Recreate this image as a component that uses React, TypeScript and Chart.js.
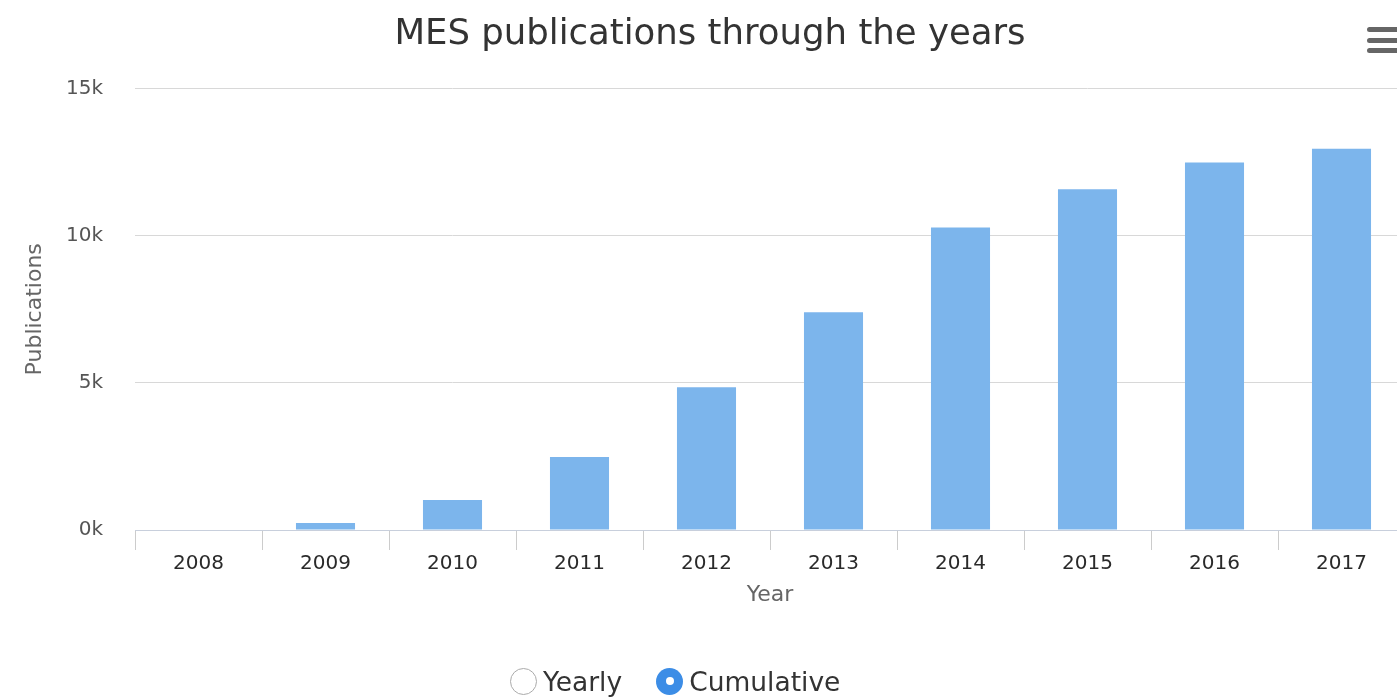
import React, { useEffect, useRef } from "react";
import { Chart, registerables } from "chart.js";

Chart.register(...registerables);

const years = ["2008", "2009", "2010", "2011", "2012", "2013", "2014", "2015", "2016", "2017"];
const cumulative = [20, 240, 1020, 2480, 4850, 7400, 10280, 11580, 12490, 12960];
const yTicks = [0, 5000, 10000, 15000];
const titleText = "MES publications through the years";
const xTitle = "Year";
const yTitle = "Publications";
const legendItems = ["Yearly", "Cumulative"];

const FONT = "'DejaVu Sans', 'Lucida Grande', Verdana, sans-serif";

export default function App() {
  const canvasRef = useRef<HTMLCanvasElement | null>(null);

  useEffect(() => {
    const canvas = canvasRef.current;
    if (!canvas) return;
    const chart = new Chart(canvas, {
      type: "bar",
      data: {
        labels: years,
        datasets: [
          {
            label: "Cumulative",
            data: cumulative,
            backgroundColor: "#7cb5ec",
            borderWidth: 0,
            barPercentage: 1,
            categoryPercentage: 0.465,
          },
        ],
      },
      options: {
        animation: false,
        responsive: true,
        maintainAspectRatio: false,
        layout: { padding: { left: 15, right: 0, top: 0, bottom: 88 } },
        plugins: {
          legend: { display: false },
          tooltip: { enabled: false },
          title: {
            display: true,
            text: titleText,
            color: "#333333",
            font: { family: FONT, size: 35.5, weight: "normal" },
            padding: { top: 13, bottom: 33 },
          },
        },
        scales: {
          x: {
            offset: true,
            afterFit: (s: any) => {
              s.height = 80;
            },
            grid: {
              display: true,
              offset: true,
              drawOnChartArea: false,
              drawTicks: true,
              tickLength: 20,
              color: "#cccccc",
              lineWidth: 1,
            },
            border: { display: true, color: "#c8cfdc", width: 1 },
            ticks: {
              color: "#2a2a2a",
              font: { family: FONT, size: 20 },
              padding: 2,
              maxRotation: 0,
              autoSkip: false,
            },
            title: {
              display: true,
              text: xTitle,
              color: "#666666",
              font: { family: FONT, size: 22 },
              padding: { top: 0, bottom: 2 },
            },
          },
          y: {
            min: 0,
            max: 15000,
            afterFit: (s: any) => {
              s.width = 120;
            },
            afterBuildTicks: (s: any) => {
              s.ticks = yTicks.map((v) => ({ value: v }));
            },
            grid: {
              display: true,
              drawTicks: false,
              color: "#d8d8d8",
              lineWidth: 1,
            },
            border: { display: false },
            ticks: {
              color: "#555555",
              font: { family: FONT, size: 20 },
              padding: 32,
              callback: (v: any) => `${Number(v) / 1000}k`,
            },
            title: {
              display: true,
              text: yTitle,
              color: "#666666",
              font: { family: FONT, size: 22 },
              padding: { top: 7, bottom: 0 },
            },
          },
        },
      },
    });
    return () => chart.destroy();
  }, []);

  const bar = (top: number): React.CSSProperties => ({
    position: "absolute",
    left: 1367,
    top,
    width: 34,
    height: 5,
    borderRadius: 3,
    background: "#666666",
  });

  return (
    <div
      style={{
        position: "fixed",
        left: 0,
        top: 0,
        width: 1397,
        height: 698,
        overflow: "hidden",
        background: "#ffffff",
        fontFamily: FONT,
      }}
    >
      <div style={{ position: "absolute", left: 0, top: 0, width: 1405, height: 698 }}>
        <canvas ref={canvasRef} />
      </div>
      <div style={bar(27)} />
      <div style={bar(38)} />
      <div style={bar(48)} />
      <div
        style={{
          position: "absolute",
          left: 510,
          top: 663,
          height: 36,
          display: "flex",
          alignItems: "center",
          fontSize: 26.5,
          color: "#333333",
        }}
      >
        <span
          style={{
            display: "inline-block",
            width: 27,
            height: 27,
            borderRadius: "50%",
            border: "1.5px solid #aaaaaa",
            boxSizing: "border-box",
            marginRight: 6,
          }}
        />
        <span style={{ marginRight: 34 }}>{legendItems[0]}</span>
        <span
          style={{
            display: "inline-flex",
            alignItems: "center",
            justifyContent: "center",
            width: 27,
            height: 27,
            borderRadius: "50%",
            background: "#3c8de6",
            marginRight: 6,
          }}
        >
          <span
            style={{
              display: "inline-block",
              width: 8,
              height: 8,
              borderRadius: "50%",
              background: "#ffffff",
            }}
          />
        </span>
        <span>{legendItems[1]}</span>
      </div>
    </div>
  );
}
